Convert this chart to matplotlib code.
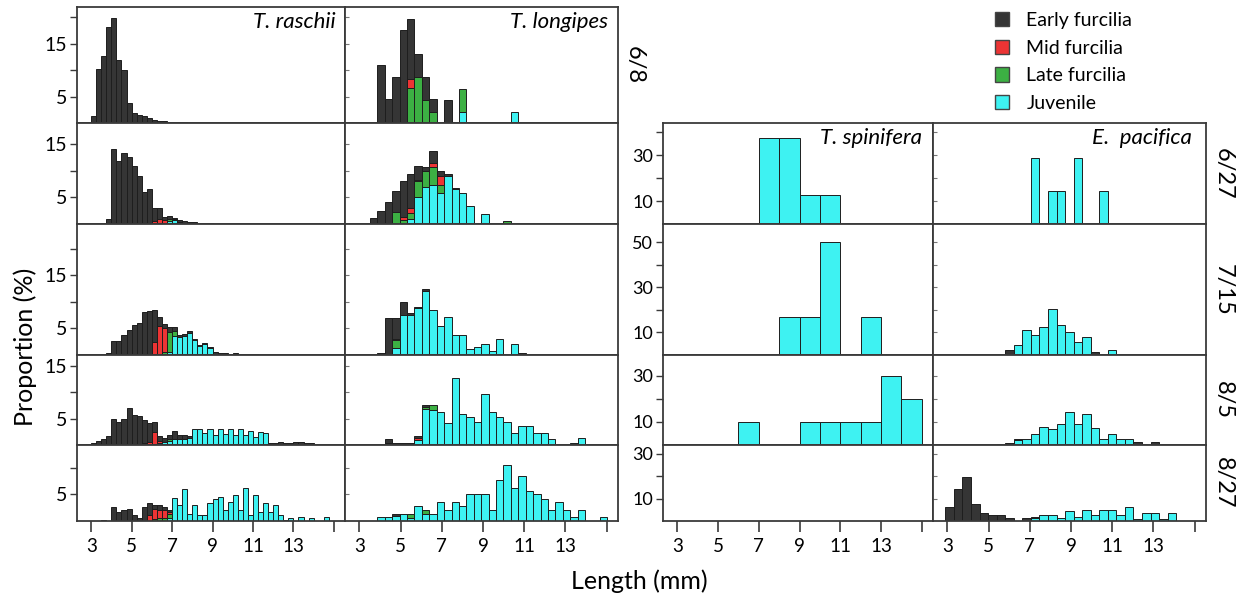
import numpy as np
import matplotlib
matplotlib.use('Agg')
import matplotlib.pyplot as plt
from matplotlib.patches import Patch

plt.rcParams['font.family'] = ['Lato', 'DejaVu Sans']

# ---------------- categories / labels ----------------
stages = ['Early furcilia', 'Mid furcilia', 'Late furcilia', 'Juvenile']
dates = ['6/8', '6/27', '7/15', '8/5', '8/27']
species = ['T. raschii', 'T. longipes', 'T. spinifera', 'E.  pacifica']
x_ticks = [3, 5, 7, 9, 11, 13, 15]
x_tick_labels = ['3', '5', '7', '9', '11', '13', '']

# length-class widths (mm) per species
ras_width = 0.25
lon_width = 0.36
spi_width = 1.0
pac_width = 0.415

# ---------------- T. raschii (proportion %, per length class) ----------------
ras_0608_start = 3.0
ras_0608_early = [1.4, 10.2, 12.7, 18.1, 19.8, 11.9, 10.1, 3.8, 1.9, 1.6, 1.3, 0.9, 0.6, 0.4, 0.3, 0.2, 0.2, 0.1, 0.1]
ras_0608_mid = []
ras_0608_late = []
ras_0608_juv = []

ras_0627_start = 3.5
ras_0627_early = [0.25, 0.9, 14.1, 11.9, 13.3, 12.6, 10.9, 9.1, 6.1, 6.5, 2.4, 2.1, 0.7, 0.6, 0.1, 0.35, 0.6, 0.4, 0.4, 0.25, 0.15, 0.1]
ras_0627_mid = [0, 0, 0, 0, 0, 0, 0, 0, 0, 0, 0.6, 0.9, 0.7]
ras_0627_late = [0, 0, 0, 0, 0, 0, 0, 0, 0, 0, 0, 0, 0, 0.3, 0.2]
ras_0627_juv = [0, 0, 0, 0, 0, 0, 0, 0, 0, 0, 0, 0, 0, 0.6, 0.8, 0.4]

ras_0715_start = 3.5
ras_0715_early = [0.2, 0.4, 2.7, 2.7, 3.8, 4.7, 5.7, 6.1, 8.2, 8.3, 6.0, 1.7, 0.8, 1.0, 0.7, 0.5,
                  0.4, 0.4, 0.3, 0.2, 0.2, 0.3, 0.6, 0.4, 0.3, 0.2, 0.4, 0.1, 0.1, 0.1, 0.1]
ras_0715_mid = [0, 0, 0, 0, 0, 0, 0, 0, 0, 0, 2.5, 5.5, 4.5]
ras_0715_late = [0, 0, 0, 0, 0, 0, 0, 0, 0, 0, 0, 0, 0.5, 3.8, 1.0]
ras_0715_juv = [0, 0, 0, 0, 0, 0, 0, 0, 0, 0, 0, 0, 0, 0.5, 3.5, 3.3, 3.5, 4.2, 2.8, 1.7, 2.0, 1.3]

ras_0805_start = 2.75
ras_0805_early = [0.1, 0.3, 0.8, 1.1, 1.7, 4.9, 4.4, 4.9, 6.9, 5.7, 5.5, 4.5, 3.5, 1.9, 0.9, 0.8, 0.8, 1.5, 0.7, 0.6, 0.3,
                  0, 0, 0, 0, 0, 0, 0, 0, 0, 0, 0, 0, 0, 0, 0,
                  0.4, 0.4, 0.6, 0.3, 0.4, 0.6, 0.6, 0.3, 0.4, 0.2]
ras_0805_mid = [0, 0, 0, 0, 0, 0, 0, 0, 0, 0, 0, 0.3, 0.6, 2.5, 0.5]
ras_0805_late = [0, 0, 0, 0, 0, 0, 0, 0, 0, 0, 0, 0, 0, 0, 0, 0, 0.3]
ras_0805_juv = [0, 0, 0, 0, 0, 0, 0, 0, 0, 0, 0, 0, 0, 0, 0.3, 0.5, 0.8, 1.2, 1.2, 1.2, 1.4,
                3.1, 3.0, 2.2, 3.0, 1.9, 3.0, 2.1, 3.0, 1.9, 3.0, 1.9, 2.7, 1.6, 2.5, 2.2]

ras_0827_start = 3.5
ras_0827_early = [0.2, 0, 2.6, 1.6, 2.0, 2.2, 1.1, 0.5, 2.6, 2.2, 0.8, 1.0, 0.5, 0.3]
ras_0827_mid = [0, 0, 0, 0, 0, 0, 0, 0, 0, 1.2, 1.8, 1.5, 1.5, 0.3]
ras_0827_late = [0, 0, 0, 0, 0, 0, 0, 0, 0, 0, 0.4, 0.5, 0.6, 0.8]
ras_0827_juv = [0, 0, 0, 0, 0, 0, 0, 0, 0, 0, 0, 0, 0, 0.6,
                4.4, 3.0, 6.1, 1.4, 3.1, 1.1, 1.1, 3.4, 4.2, 4.5, 2.1, 3.6, 4.8, 2.0, 6.3, 1.1,
                4.8, 1.7, 3.4, 1.7, 3.0, 1.1, 0.25, 0.6, 0, 0.75, 0, 0.6, 0, 0, 0.75]

# ---------------- T. longipes ----------------
lon_0608_start = 3.87
lon_0608_early = [10.9, 4.5, 8.7, 17.5, 11.3, 4.5, 4.4, 2.4, 0, 4.4]
lon_0608_mid = [0, 0, 0, 0, 1.7]
lon_0608_late = [0, 0, 0, 0, 6.7, 8.6, 4.3, 2.1, 0, 0, 0, 4.4]
lon_0608_juv = [0, 0, 0, 0, 0, 0, 0, 0, 0, 0, 0, 2.1, 0, 0, 0, 0, 0, 0, 2.1]

lon_0627_start = 3.51
lon_0627_early = [1.1, 2.5, 4.2, 4.0, 6.6, 6.4, 2.6, 0.8, 2.3, 0.9, 0.4, 0.2]
lon_0627_mid = [0, 0, 0, 0, 0.6, 1.0, 0.3, 0, 0.7, 1.6]
lon_0627_late = [0, 0, 0, 2.3, 0.8, 1.0, 3.0, 3.0, 3.4, 1.6, 0, 0, 0, 0, 0, 0, 0, 0, 0.6]
lon_0627_juv = [0, 0, 0, 0, 0, 1.0, 5.0, 7.0, 7.3, 5.8, 9.0, 6.5, 5.9, 3.3, 0, 1.8]

lon_0715_start = 3.87
lon_0715_early = [0.3, 6.9, 3.9, 2.4, 0.4, 0.2, 0.4, 0, 0, 0, 0, 0, 0, 0, 0, 0, 0, 0, 0, 0.3]
lon_0715_mid = [0, 0, 0.2]
lon_0715_late = [0, 0, 1.5]
lon_0715_juv = [0, 0, 1.3, 7.5, 7.6, 8.8, 12.0, 8.5, 5.5, 7.2, 3.8, 3.8, 1.1, 1.6, 2.0, 0.8, 3.0, 0, 2.0]

lon_0805_start = 4.23
lon_0805_early = [0.7, 0.4, 0.4, 0.4, 0.4, 0.4]
lon_0805_mid = [0, 0, 0, 0, 0.3]
lon_0805_late = [0.4, 0, 0, 0, 0, 0.3, 0.8]
lon_0805_juv = [0, 0, 0, 0, 1.0, 6.8, 6.7, 6.3, 4.1, 12.7, 5.8, 5.2, 4.4, 9.7, 6.3, 5.2, 4.4,
                2.2, 3.5, 3.5, 2.2, 2.2, 1.1, 0, 0, 0.4, 1.3]

lon_0827_start = 3.87
lon_0827_early = [0, 0, 0.4]
lon_0827_mid = []
lon_0827_late = [0, 0, 0, 0, 0.9, 0, 0.6]
lon_0827_juv = [0.75, 0.75, 1.0, 1.4, 0.5, 2.8, 1.4, 1.4, 3.6, 2.0, 3.6, 2.8, 5.0, 5.0, 5.0, 2.0,
                7.8, 10.6, 6.3, 8.5, 5.6, 5.0, 4.2, 2.0, 3.6, 2.0, 0.75, 2.1, 0, 0, 0.75]

# ---------------- T. spinifera ----------------
spi_0627_start = 7.0
spi_0627_juv = [37.5, 37.5, 12.5, 12.5]
spi_0715_start = 8.0
spi_0715_juv = [16.7, 16.7, 50.0, 0, 16.7]
spi_0805_start = 6.0
spi_0805_juv = [10, 0, 0, 10, 10, 10, 10, 30, 20]
spi_0827_start = 3.0
spi_0827_juv = []

# ---------------- E. pacifica ----------------
pac_0627_start = 7.05
pac_0627_early = []
pac_0627_juv = [28.6, 0, 14.3, 14.3, 0, 28.6, 0, 0, 14.3]
pac_0715_start = 5.805
pac_0715_early = [2.3, 0, 0, 0, 0, 0, 0, 0, 0, 0, 1.2]
pac_0715_juv = [0, 4.4, 11.2, 9.0, 12.2, 20.3, 13.4, 10.3, 5.6, 7.8, 0, 0, 2.3]
pac_0805_start = 5.39
pac_0805_early = [0.4, 0.9, 0.7, 0, 0, 0, 0, 0, 0, 0, 0, 0, 0, 0, 0, 0, 1.3, 0, 1.3]
pac_0805_juv = [0, 0, 2.1, 2.4, 4.6, 7.6, 6.8, 9.0, 14.2, 9.0, 13.5, 7.3, 2.8, 4.6, 2.8, 2.8]
pac_0827_start = 2.9
pac_0827_early = [6.3, 14.5, 19.9, 7.5, 3.5, 2.5, 2.5, 1.5, 0, 1.5, 0.6]
pac_0827_juv = [0, 0, 0, 0, 0, 0, 0, 0, 0, 0, 1.2, 2.5, 2.5, 1.5, 4.4, 1.8, 5.1, 2.8, 4.9, 4.9,
                2.5, 6.3, 1.1, 3.5, 3.5, 1.1, 3.5]

# ---------------- styling ----------------
colors = {'early': '#353535', 'mid': '#ec3434', 'late': '#3cb043', 'juv': '#3ef2f2'}
edge = '#1e1e1e'
spine_c = '#3a3a3a'
W, H = 1244, 598

left_ylims = [21.9, 19.0, 24.7, 17.0, 14.3]
left_major = [[5, 15], [5, 15], [5, 15], [5, 15], [5]]
left_minor = [[10, 20], [10], [10, 20], [10], [10]]
right_ylims = [44, 58, 39, 34]
right_major = [[10, 30], [10, 30, 50], [10, 30], [10, 30]]
right_minor = [[20, 40], [20, 40], [20], [20]]

row_y = [7, 123, 224, 355, 445, 521]
left_x = [77, 345, 618]
right_x = [663, 933, 1206]
XLIM = (2.3, 15.55)

fig = plt.figure(figsize=(W / 100, H / 100), dpi=100)


def add_ax(x0, x1, y0, y1):
    return fig.add_axes([x0 / W, 1 - y1 / H, (x1 - x0) / W, (y1 - y0) / H])


def draw(ax, start, width, early=(), mid=(), late=(), juv=()):
    layers = [('juv', juv), ('late', late), ('mid', mid), ('early', early)]
    n = max(len(v) for _, v in layers)
    bottom = np.zeros(n)
    lefts = start + width * np.arange(n)
    for key, vals in layers:
        v = np.zeros(n)
        v[:len(vals)] = vals
        m = v > 0
        if m.any():
            ax.bar(lefts[m], v[m], width=width, bottom=bottom[m], align='edge',
                   color=colors[key], edgecolor=edge, linewidth=0.7)
        bottom += v


def style(ax, ylim, major, minor, show_ylabels, bottom_row, tick_fs):
    ax.set_xlim(*XLIM)
    ax.set_ylim(0, ylim)
    for s in ax.spines.values():
        s.set_color(spine_c)
        s.set_linewidth(1.3)
    ax.set_yticks(major)
    ax.set_yticks(minor, minor=True)
    if show_ylabels:
        ax.set_yticklabels([str(v) for v in major], fontsize=tick_fs)
        ax.tick_params(axis='y', which='both', direction='out', length=5, width=1.0,
                       color=spine_c, pad=2)
    else:
        ax.tick_params(axis='y', which='both', direction='in', length=3, width=0.8,
                       color='#777777', labelleft=False)
    if bottom_row:
        ax.set_xticks(x_ticks)
        ax.set_xticklabels(x_tick_labels, fontsize=13.5)
        ax.tick_params(axis='x', direction='out', length=8, width=1.2, color=spine_c, pad=4)
    else:
        ax.set_xticks([])


ras = [
    (ras_0608_start, ras_0608_early, ras_0608_mid, ras_0608_late, ras_0608_juv),
    (ras_0627_start, ras_0627_early, ras_0627_mid, ras_0627_late, ras_0627_juv),
    (ras_0715_start, ras_0715_early, ras_0715_mid, ras_0715_late, ras_0715_juv),
    (ras_0805_start, ras_0805_early, ras_0805_mid, ras_0805_late, ras_0805_juv),
    (ras_0827_start, ras_0827_early, ras_0827_mid, ras_0827_late, ras_0827_juv),
]
lon = [
    (lon_0608_start, lon_0608_early, lon_0608_mid, lon_0608_late, lon_0608_juv),
    (lon_0627_start, lon_0627_early, lon_0627_mid, lon_0627_late, lon_0627_juv),
    (lon_0715_start, lon_0715_early, lon_0715_mid, lon_0715_late, lon_0715_juv),
    (lon_0805_start, lon_0805_early, lon_0805_mid, lon_0805_late, lon_0805_juv),
    (lon_0827_start, lon_0827_early, lon_0827_mid, lon_0827_late, lon_0827_juv),
]
spi = [(spi_0627_start, spi_0627_juv), (spi_0715_start, spi_0715_juv),
       (spi_0805_start, spi_0805_juv), (spi_0827_start, spi_0827_juv)]
pac = [(pac_0627_start, pac_0627_early, pac_0627_juv), (pac_0715_start, pac_0715_early, pac_0715_juv),
       (pac_0805_start, pac_0805_early, pac_0805_juv), (pac_0827_start, pac_0827_early, pac_0827_juv)]

# left block
for r in range(5):
    y0, y1 = row_y[r], row_y[r + 1]
    a1 = add_ax(left_x[0], left_x[1], y0, y1)
    s, e, m, l, j = ras[r]
    draw(a1, s, ras_width, e, m, l, j)
    style(a1, left_ylims[r], left_major[r], left_minor[r], True, r == 4, 14)
    a2 = add_ax(left_x[1], left_x[2], y0, y1)
    s, e, m, l, j = lon[r]
    draw(a2, s, lon_width, e, m, l, j)
    style(a2, left_ylims[r], left_major[r], left_minor[r], False, r == 4, 14)
    if r == 0:
        a1.text(0.965, 0.955, species[0], transform=a1.transAxes, ha='right', va='top',
                style='italic', fontsize=16)
        a2.text(0.965, 0.955, species[1], transform=a2.transAxes, ha='right', va='top',
                style='italic', fontsize=16)

# right block
for r in range(4):
    y0, y1 = row_y[r + 1], row_y[r + 2]
    a3 = add_ax(right_x[0], right_x[1], y0, y1)
    s, j = spi[r]
    draw(a3, s, spi_width, juv=j)
    style(a3, right_ylims[r], right_major[r], right_minor[r], True, r == 3, 13)
    a4 = add_ax(right_x[1], right_x[2], y0, y1)
    s, e, j = pac[r]
    draw(a4, s, pac_width, early=e, juv=j)
    style(a4, right_ylims[r], right_major[r], right_minor[r], False, r == 3, 13)
    if r == 0:
        a3.text(0.96, 0.95, species[2], transform=a3.transAxes, ha='right', va='top',
                style='italic', fontsize=16)
        a4.text(0.95, 0.95, species[3], transform=a4.transAxes, ha='right', va='top',
                style='italic', fontsize=16)
    fig.text(1223 / W, 1 - (y0 + y1) / 2 / H, dates[r + 1], rotation=-90,
             ha='center', va='center', fontsize=17)

fig.text(634 / W, 1 - 65 / H, dates[0], rotation=-90, ha='center', va='center', fontsize=17)

fig.text(25 / W, 1 - 347 / H, 'Proportion (%)', rotation=90, ha='center', va='center', fontsize=18)
fig.text(639 / W, 1 - 589 / H, 'Length (mm)', ha='center', va='baseline', fontsize=18)

handles = [Patch(facecolor=colors[k], edgecolor='#444444', linewidth=1.0)
           for k in ['early', 'mid', 'late', 'juv']]
fig.legend(handles, stages, loc='upper left', bbox_to_anchor=(995 / W, 1 - 12 / H),
           frameon=False, fontsize=14, handlelength=0.72, handleheight=0.75,
           handletextpad=0.9, labelspacing=0.55, borderpad=0, borderaxespad=0)

fig.savefig('out.png', dpi=100)
